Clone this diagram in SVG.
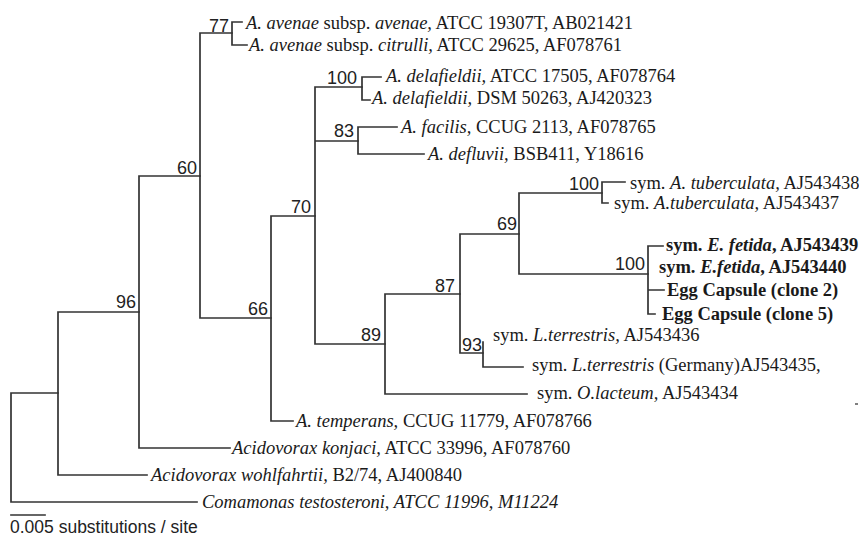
<svg xmlns="http://www.w3.org/2000/svg" width="859" height="536" viewBox="0 0 859 536">
<style>
.br{fill:none;stroke:#333;stroke-width:1.7;stroke-linecap:square}
.lf{font-family:"Liberation Serif","Times New Roman",serif;font-size:18.5px;fill:#1a1a1a}
.b{font-weight:bold}
.sp{font-family:"Liberation Sans",Arial,sans-serif;font-size:18px;fill:#222;text-anchor:end}
.sc{font-family:"Liberation Sans",Arial,sans-serif;font-size:17.5px;fill:#222}
</style>
<rect width="859" height="536" fill="#fff"/>
<g id="connectors" class="br">
<path d="M11,393V502M11,393H58M11,502H197"/>
<path d="M58,312V475M58,312H139M58,475H147"/>
<path d="M139,176V448M139,176H200M139,448H230"/>
<path d="M200,33V318M200,33H232M200,318H271"/>
<path d="M232,22V45M232,22H242M232,45H247"/>
<path d="M271,216V421M271,216H315M271,421H293"/>
<path d="M315,87V344M315,87H362M315,141H358M315,344H385"/>
<path d="M362,77V100M362,77H381M362,100H370"/>
<path d="M358,127V154M358,127H397M358,154H424"/>
<path d="M385,294V394M385,294H460M385,394H527"/>
<path d="M460,234V353M460,234H519M460,353H483"/>
<path d="M483,342V367M483,367H523"/>
<path d="M519,193V274M519,193H602M519,274H648"/>
<path d="M602,182V203M602,182H625M602,203H608"/>
<path d="M648,246V314M648,246H663M648,290H664M648,314H655"/>
<path d="M11,515H45"/>
</g>
<g id="n77"><text class="sp" x="229" y="32">77</text></g>
<g id="n60"><text class="sp" x="197" y="174">60</text></g>
<g id="n100a"><text class="sp" x="357" y="84">100</text></g>
<g id="n83"><text class="sp" x="354" y="137">83</text></g>
<g id="n96"><text class="sp" x="136" y="308">96</text></g>
<g id="n66"><text class="sp" x="268" y="315">66</text></g>
<g id="n70"><text class="sp" x="311" y="213">70</text></g>
<g id="n89"><text class="sp" x="381" y="341">89</text></g>
<g id="n87"><text class="sp" x="455" y="292">87</text></g>
<g id="n69"><text class="sp" x="517" y="230">69</text></g>
<g id="n100b"><text class="sp" x="599" y="190">100</text></g>
<g id="n100c"><text class="sp" x="645" y="270">100</text></g>
<g id="n93"><text class="sp" x="482" y="351">93</text></g>
<g id="leaf1"><text class="lf" x="246" y="29"><tspan font-style="italic">A. avenae</tspan> subsp. <tspan font-style="italic">avenae,</tspan> ATCC 19307T, AB021421</text></g>
<g id="leaf2"><text class="lf" x="249" y="51"><tspan font-style="italic">A. avenae</tspan> subsp. <tspan font-style="italic">citrulli,</tspan> ATCC 29625, AF078761</text></g>
<g id="leaf3"><text class="lf" x="386" y="82"><tspan font-style="italic">A. delafieldii,</tspan> ATCC 17505, AF078764</text></g>
<g id="leaf4"><text class="lf" x="372" y="104"><tspan font-style="italic">A. delafieldii,</tspan> DSM 50263, AJ420323</text></g>
<g id="leaf5"><text class="lf" x="401" y="133"><tspan font-style="italic">A. facilis,</tspan> CCUG 2113, AF078765</text></g>
<g id="leaf6"><text class="lf" x="428" y="160"><tspan font-style="italic">A. defluvii,</tspan> BSB411, Y18616</text></g>
<g id="leaf7"><text class="lf" x="630" y="189">sym. <tspan font-style="italic">A. tuberculata,</tspan> AJ543438</text></g>
<g id="leaf8"><text class="lf" x="614" y="209">sym. <tspan font-style="italic">A.tuberculata,</tspan> AJ543437</text></g>
<g id="leaf9"><text class="lf b" x="666" y="251">sym. <tspan font-style="italic">E. fetida</tspan>, AJ543439</text></g>
<g id="leaf10"><text class="lf b" x="659" y="273">sym. <tspan font-style="italic">E.fetida</tspan>, AJ543440</text></g>
<g id="leaf11"><text class="lf b" x="667" y="296">Egg Capsule (clone 2)</text></g>
<g id="leaf12"><text class="lf b" x="662" y="320">Egg Capsule (clone 5)</text></g>
<g id="leaf13"><text class="lf" x="493" y="341">sym. <tspan font-style="italic">L.terrestris,</tspan> AJ543436</text></g>
<g id="leaf14"><text class="lf" x="532" y="371">sym. <tspan font-style="italic">L.terrestris</tspan> (Germany)AJ543435,</text></g>
<g id="leaf15"><text class="lf" x="537" y="399">sym. <tspan font-style="italic">O.lacteum,</tspan> AJ543434</text></g>
<g id="leaf16"><text class="lf" x="296" y="427"><tspan font-style="italic">A. temperans,</tspan> CCUG 11779, AF078766</text></g>
<g id="leaf17"><text class="lf" x="232" y="454"><tspan font-style="italic">Acidovorax konjaci,</tspan> ATCC 33996, AF078760</text></g>
<g id="leaf18"><text class="lf" x="151" y="481"><tspan font-style="italic">Acidovorax wohlfahrtii,</tspan> B2/74, AJ400840</text></g>
<g id="leaf19"><text class="lf" x="202" y="508" font-style="italic">Comamonas testosteroni, ATCC 11996, M11224</text></g>
<g id="scale"><text class="sc" x="10" y="533">0.005 substitutions / site</text></g>
<path d="M855,404H858" stroke="#555" stroke-width="1.5"/>
</svg>
